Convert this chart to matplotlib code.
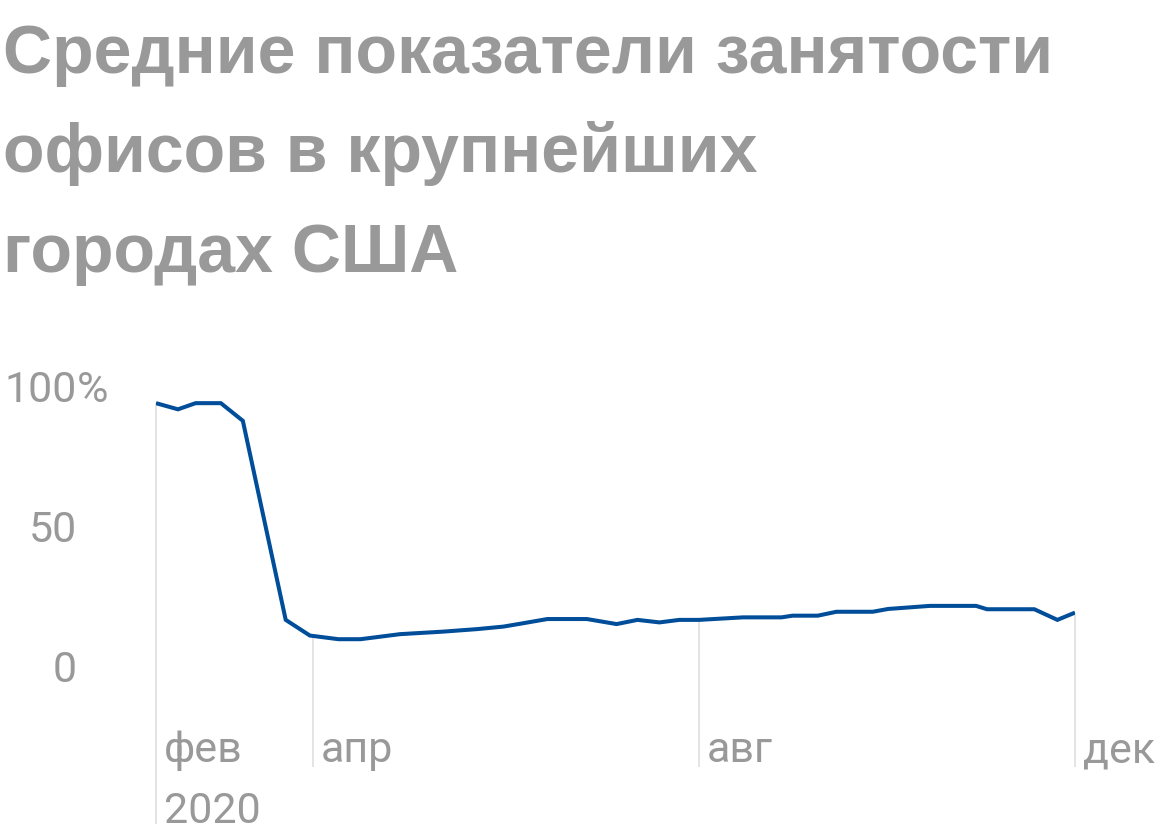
import matplotlib
matplotlib.use("Agg")
import matplotlib.pyplot as plt

# недели от начала февраля 2020 (дробные — точки)
weeks = [0, 1.0, 1.8, 2.95, 3.95, 5.9, 7.0, 8.3, 9.3, 11.1, 13.05, 14.6, 15.8,
         16.7, 17.8, 19.6, 20.95, 21.9, 22.9, 23.8, 24.7, 26.7, 28.45, 28.95,
         30.1, 30.95, 32.6, 33.3, 35.2, 37.3, 37.8, 39.95, 41.0, 41.8]
occupancy = [95.3, 93.1, 95.3, 95.3, 89.0, 17.9, 12.3, 11.0, 11.0, 12.8, 13.7,
             14.6, 15.5, 16.7, 18.2, 18.2, 16.4, 17.9, 17.0, 17.9, 17.9, 18.8,
             18.8, 19.4, 19.4, 20.8, 20.8, 21.8, 22.9, 22.9, 21.7, 21.7, 17.9,
             20.5]

month_pos = [0.0, 7.15, 24.7, 41.8]
month_labels = ["фев", "апр", "авг", "дек"]
year_label = "2020"
y_ticks = [0, 50, 100]
y_labels = ["0", "50", "100"]

title_lines = ["Средние показатели занятости", "офисов в крупнейших", "городах США"]

W, H = 1160, 840
GRAY = "#999999"
GRID = "#dcdcdc"
BLUE = "#004d99"
LABEL_FONT = ["Roboto", "DejaVu Sans"]
LABEL_SIZE = 31

fig = plt.figure(figsize=(W / 100, H / 100), dpi=100)

# ось: 0 -> 670 px, 100 -> 390 px сверху; x: 0 -> 156 px, 41.8 -> 1075 px
y_lo, y_hi = -56, 100
px_per_unit = 2.8
bottom_px = 670 + (-y_lo) * px_per_unit
ax = fig.add_axes([156 / W, (H - bottom_px) / H,
                   (1075 - 156) / W, (y_hi - y_lo) * px_per_unit / H])
ax.set_xlim(0, 41.8)
ax.set_ylim(y_lo, y_hi)
ax.axis("off")


def month_label(pos, text, y):
    ax.annotate(text, xy=(pos, y), xytext=(5.5, 0), textcoords="offset points",
                ha="left", va="baseline", fontsize=LABEL_SIZE, color=GRAY,
                family=LABEL_FONT, annotation_clip=False)


# вертикальные линии от кривой вниз под подписи
for i, (pos, lab) in enumerate(zip(month_pos, month_labels)):
    top = occupancy[min(range(len(weeks)), key=lambda k: abs(weeks[k] - pos))]
    bottom = -55 if i == 0 else -34.5
    ax.plot([pos, pos], [bottom, top], color=GRID, lw=1.1, zorder=1,
            clip_on=False, solid_capstyle="butt")
    month_label(pos, lab, -32.9)
month_label(month_pos[0], year_label, -54.6)

ax.plot(weeks, occupancy, color=BLUE, lw=2.9, zorder=3,
        solid_joinstyle="miter", solid_capstyle="butt")

for val, lab in zip(y_ticks, y_labels):
    ax.annotate(lab, xy=(77, val), xycoords=("figure pixels", "data"),
                ha="right", va="center", fontsize=LABEL_SIZE, color=GRAY,
                family=LABEL_FONT, annotation_clip=False)
ax.annotate("%", xy=(77, 100), xycoords=("figure pixels", "data"),
            ha="left", va="center", fontsize=LABEL_SIZE, color=GRAY,
            family=LABEL_FONT, annotation_clip=False)

for i, line in enumerate(title_lines):
    base = 73 + i * 99.5
    fig.text(3 / W, (H - base) / H, line, ha="left", va="baseline",
             fontsize=49, fontweight="bold", color=GRAY,
             family=["Liberation Sans", "DejaVu Sans"])

fig.savefig("out.png", dpi=100)
